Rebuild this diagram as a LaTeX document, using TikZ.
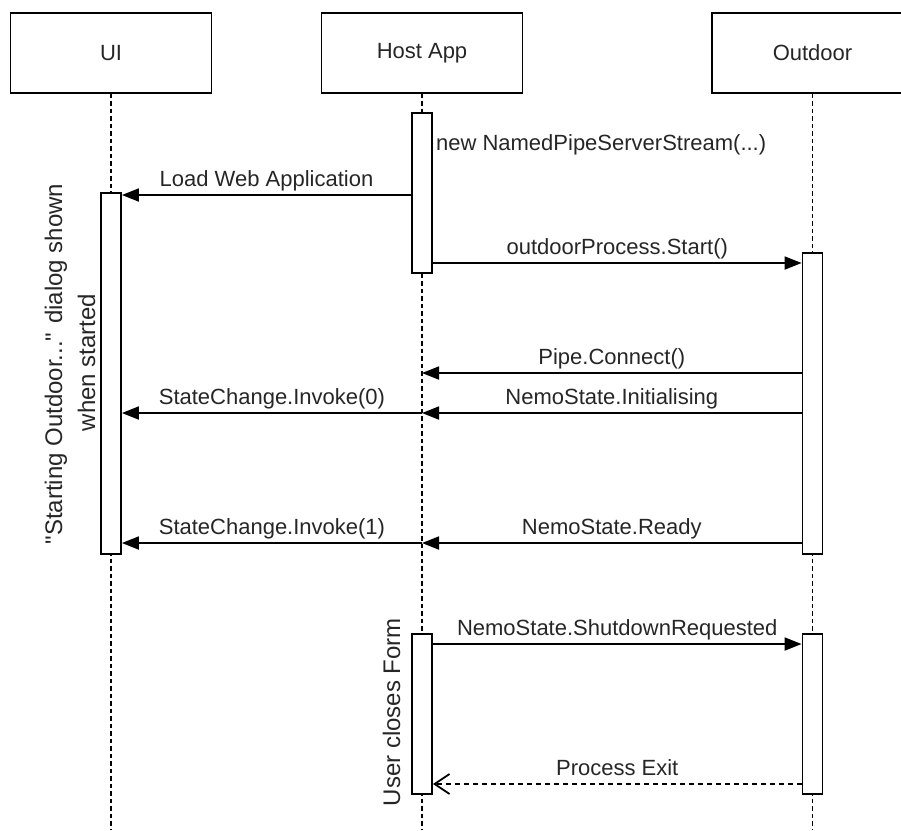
\documentclass[tikz,border=0pt]{standalone}
\usepackage{fontspec}
\setmainfont{Liberation Sans}
\usetikzlibrary{arrows.meta}
\begin{document}
\begin{tikzpicture}[x=1pt,y=-1pt,
  every node/.style={font=\fontsize{22}{26}\selectfont, text=black!85},
  head/.style={draw=black, line width=1.8pt, minimum width=201pt, minimum height=80pt, inner sep=0pt},
  act/.style={draw=black, fill=white, line width=1.8pt, minimum width=20pt, inner sep=0pt},
  life/.style={draw=black, line width=1.8pt, dash pattern=on 4.5pt off 3pt},
  msg/.style={draw=black, line width=1.8pt, -{Triangle[length=17pt,width=13pt]}},
  ret/.style={draw=black, line width=1.8pt, dash pattern=on 5pt off 4pt, -{Straight Barb[length=15pt,width=20pt]}},
  lbl/.style={anchor=base, yshift=9pt},
  rot/.style={rotate=90, anchor=base, font=\fontsize{24}{28}\selectfont}
]
\useasboundingbox (0,0) rectangle (901,830);
\clip (0,0) rectangle (901,830);

% headers
\node[head] (ui) at (111,53) {UI};
\node[head] (host) at (422,53) {Host App};
\node[head] (out) at (812.5,53) {Outdoor};

% lifeline ends
\coordinate (uiend) at (111,830);
\coordinate (hostend) at (422,830);
\coordinate (outend) at (812.5,830);

% lifelines
\draw[life] (ui.south) -- (uiend);
\draw[life] (host.south) -- (hostend);
\draw[life] (out.south) -- (outend);

% activations
\node[act, minimum height=160pt] (hact1) at (422,193) {};
\node[act, minimum height=361pt] (uact) at (111,373.5) {};
\node[act, minimum height=301pt] (oact1) at (812.5,403.5) {};
\node[act, minimum height=160pt] (hact2) at (422,714) {};
\node[act, minimum height=160pt] (oact2) at (812.5,714) {};

% self note
\node[anchor=base west, inner sep=0pt, xshift=3pt] (np) at (hact1.east |- 0,150) {new NamedPipeServerStream(...)};

% messages
\draw[msg] (hact1.west |- 0,195) -- (uact.east |- 0,195) node[lbl, midway] (l1) {Load Web Application};
\draw[msg] (hact1.east |- 0,263) -- (oact1.west |- 0,263) node[lbl, midway] (l2) {outdoorProcess.Start()};
\draw[msg] (oact1.west |- 0,373) -- (host.south |- 0,373) node[lbl, midway] (l3) {Pipe.Connect()};
\draw[msg] (oact1.west |- 0,413) -- (host.south |- 0,413) node[lbl, midway] (l4) {NemoState.Initialising};
\draw[msg] (host.south |- 0,413) -- (uact.east |- 0,413) node[lbl, midway] (l5) {StateChange.Invoke(0)};
\draw[msg] (oact1.west |- 0,543) -- (host.south |- 0,543) node[lbl, midway] (l6) {NemoState.Ready};
\draw[msg] (host.south |- 0,543) -- (uact.east |- 0,543) node[lbl, midway] (l7) {StateChange.Invoke(1)};
\draw[msg] (hact2.east |- 0,644) -- (oact2.west |- 0,644) node[lbl, midway] (l8) {NemoState.ShutdownRequested};
\draw[ret] (oact2.west |- 0,784) -- (hact2.east |- 0,784) node[lbl, midway] (l9) {Process Exit};

% rotated notes
\node[rot] (dlg1) at (62,364) {\textquotedbl Starting Outdoor...\textquotedbl{} dialog shown};
\node[rot] (dlg2) at (95,362.5) {when started};
\node[rot] (ucf) at (400,712) {User closes Form};
\end{tikzpicture}
\end{document}
